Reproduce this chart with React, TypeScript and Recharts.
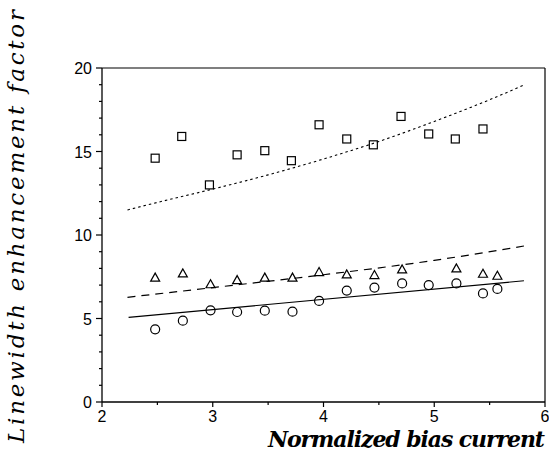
import { ComposedChart, Scatter, Line, XAxis, YAxis } from 'recharts';

// measured points
const squareX = [2.48, 2.72, 2.97, 3.22, 3.47, 3.71, 3.96, 4.21, 4.45, 4.7, 4.95, 5.19, 5.44];
const squareY = [14.6, 15.9, 13.0, 14.8, 15.05, 14.45, 16.6, 15.75, 15.4, 17.1, 16.05, 15.75, 16.35];

const triangleX = [2.48, 2.73, 2.98, 3.22, 3.47, 3.72, 3.96, 4.21, 4.46, 4.71, 5.2, 5.44, 5.57];
const triangleY = [7.45, 7.7, 7.05, 7.3, 7.45, 7.45, 7.78, 7.64, 7.6, 7.94, 8.0, 7.68, 7.56];

const circleX = [2.48, 2.73, 2.98, 3.22, 3.47, 3.72, 3.96, 4.21, 4.46, 4.71, 4.95, 5.2, 5.44, 5.57];
const circleY = [4.35, 4.87, 5.49, 5.39, 5.47, 5.41, 6.05, 6.67, 6.85, 7.1, 7.0, 7.1, 6.5, 6.77];

// fitted curves
const dottedX = [2.23, 2.5, 3.0, 3.5, 4.0, 4.5, 5.0, 5.5, 5.81];
const dottedY = [11.5, 11.95, 12.75, 13.6, 14.55, 15.6, 16.8, 18.1, 18.98];

const dashedX = [2.23, 3.0, 4.0, 5.0, 5.81];
const dashedY = [6.27, 6.85, 7.62, 8.48, 9.34];

const solidX = [2.24, 5.81];
const solidY = [5.07, 7.26];

const xTicks = [2, 2.5, 3, 3.5, 4, 4.5, 5, 5.5, 6];
const yTicks = Array.from({ length: 21 }, (_, i) => i);

const zip = (xs: number[], ys: number[]) => xs.map((x, i) => ({ x, y: ys[i] }));

const squares = zip(squareX, squareY);
const triangles = zip(triangleX, triangleY);
const circles = zip(circleX, circleY);
const dotted = zip(dottedX, dottedY);
const dashed = zip(dashedX, dashedY);
const solid = zip(solidX, solidY);

const tickFont = '"Liberation Sans", Arial, sans-serif';
const titleFont = '"DejaVu Serif", serif';

const XTick = (props: any) => {
  const { x, y, payload } = props;
  const major = Number.isInteger(payload.value);
  return (
    <g>
      <line x1={x} y1={y} x2={x} y2={y + (major ? 5 : 3)} stroke="#000" strokeWidth={1.2} />
      {major && (
        <text x={x} y={y + 20} textAnchor="middle" fontFamily={tickFont} fontSize={16} fill="#000">
          {payload.value}
        </text>
      )}
    </g>
  );
};

const YTick = (props: any) => {
  const { x, y, payload } = props;
  const major = payload.value % 5 === 0;
  return (
    <g>
      <line x1={x} y1={y} x2={x - (major ? 6 : 3)} y2={y} stroke="#000" strokeWidth={1.2} />
      {major && (
        <text x={x - 10} y={y + 6} textAnchor="end" fontFamily={tickFont} fontSize={16} fill="#000">
          {payload.value}
        </text>
      )}
    </g>
  );
};

const SquareMark = (p: any) => (
  <rect x={p.cx - 4} y={p.cy - 4} width={8} height={8} fill="none" stroke="#000" strokeWidth={1.2} />
);
const TriangleMark = (p: any) => (
  <polygon
    points={`${p.cx},${p.cy - 4.5} ${p.cx - 4.5},${p.cy + 3.5} ${p.cx + 4.5},${p.cy + 3.5}`}
    fill="none"
    stroke="#000"
    strokeWidth={1.2}
  />
);
const CircleMark = (p: any) => (
  <circle cx={p.cx} cy={p.cy} r={4.5} fill="none" stroke="#000" strokeWidth={1.2} />
);

export default function App() {
  return (
    <div style={{ position: 'absolute', left: 0, top: 0, background: '#fff' }}>
      <ComposedChart width={549} height={454} margin={{ top: 67, right: 3, bottom: 22, left: 72 }}>
        <XAxis
          xAxisId="b"
          type="number"
          dataKey="x"
          domain={[2, 6]}
          ticks={xTicks}
          height={30}
          tickSize={0}
          tickMargin={0}
          tickLine={false}
          tick={XTick}
          axisLine={{ stroke: '#000', strokeWidth: 1.3 }}
          allowDataOverflow
          interval={0}
        />
        <XAxis
          xAxisId="t"
          orientation="top"
          type="number"
          dataKey="x"
          domain={[2, 6]}
          height={1}
          tick={false}
          tickLine={false}
          axisLine={{ stroke: '#000', strokeWidth: 1.2 }}
        />
        <YAxis
          yAxisId="l"
          type="number"
          dataKey="y"
          domain={[0, 20]}
          ticks={yTicks}
          width={30}
          tickSize={0}
          tickMargin={0}
          tickLine={false}
          tick={YTick}
          axisLine={{ stroke: '#000', strokeWidth: 1.3 }}
          allowDataOverflow
          interval={0}
        />
        <YAxis
          yAxisId="r"
          orientation="right"
          type="number"
          domain={[0, 20]}
          width={1}
          tick={false}
          tickLine={false}
          axisLine={{ stroke: '#000', strokeWidth: 1.2 }}
        />
        <Line
          xAxisId="b"
          yAxisId="l"
          data={dotted}
          dataKey="y"
          type="monotone"
          stroke="#000"
          strokeWidth={1.1}
          strokeDasharray="2.5 3"
          dot={false}
          isAnimationActive={false}
        />
        <Line
          xAxisId="b"
          yAxisId="l"
          data={dashed}
          dataKey="y"
          type="monotone"
          stroke="#000"
          strokeWidth={1.2}
          strokeDasharray="8 6"
          dot={false}
          isAnimationActive={false}
        />
        <Line
          xAxisId="b"
          yAxisId="l"
          data={solid}
          dataKey="y"
          type="linear"
          stroke="#000"
          strokeWidth={1.2}
          dot={false}
          isAnimationActive={false}
        />
        <Scatter xAxisId="b" yAxisId="l" data={squares} shape={SquareMark} isAnimationActive={false} />
        <Scatter xAxisId="b" yAxisId="l" data={triangles} shape={TriangleMark} isAnimationActive={false} />
        <Scatter xAxisId="b" yAxisId="l" data={circles} shape={CircleMark} isAnimationActive={false} />
        <text
          x={268}
          y={447}
          textLength={277}
          lengthAdjust="spacing"
          fontFamily={titleFont}
          fontStyle="italic"
          fontWeight="bold"
          fontSize={22}
          fill="#000"
        >
          Normalized bias current
        </text>
        <text
          x={0}
          y={0}
          transform="translate(24 443) rotate(-90)"
          textLength={433}
          lengthAdjust="spacing"
          fontFamily={titleFont}
          fontStyle="italic"
          fontWeight="normal"
          fontSize={23}
          fill="#000"
        >
          Linewidth enhancement factor
        </text>
      </ComposedChart>
    </div>
  );
}
